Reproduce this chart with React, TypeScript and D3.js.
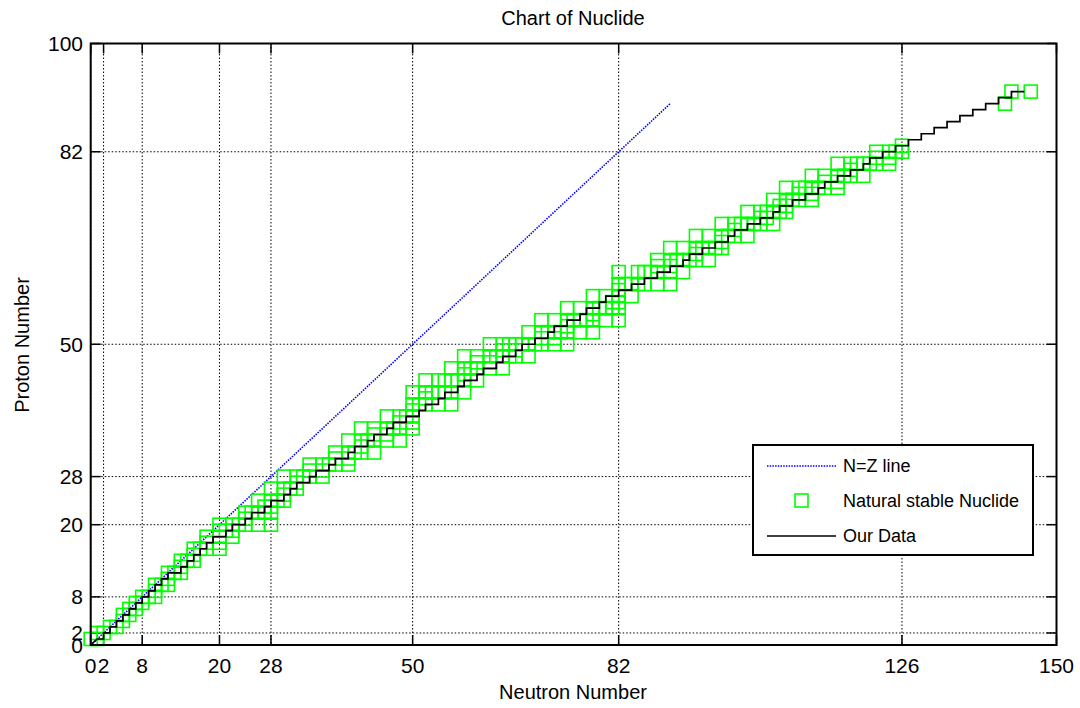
import React from 'react';
import * as d3 from 'd3';

// tick values used by the axes and the grid
const xTicks = [0, 2, 8, 20, 28, 50, 82, 126, 150];
const yTicks = [0, 2, 8, 20, 28, 50, 82, 100];

// natural stable nuclides: [Z, neutron numbers]
const stableNuclides: [number, number[]][] = [
  [1, [0, 1]], [2, [1, 2]], [3, [3, 4]], [4, [5]], [5, [5, 6]],
  [6, [6, 7]], [7, [7, 8]], [8, [8, 9, 10]], [9, [10]], [10, [10, 11, 12]],
  [11, [12]], [12, [12, 13, 14]], [13, [14]], [14, [14, 15, 16]], [15, [16]],
  [16, [16, 17, 18, 20]], [17, [18, 20]], [18, [18, 20, 22]], [19, [20, 21, 22]],
  [20, [20, 22, 23, 24, 26, 28]], [21, [24]], [22, [24, 25, 26, 27, 28]],
  [23, [27, 28]], [24, [26, 28, 29, 30]], [25, [30]], [26, [28, 30, 31, 32]],
  [27, [32]], [28, [30, 32, 33, 34, 36]], [29, [34, 36]], [30, [34, 36, 37, 38, 40]],
  [31, [38, 40]], [32, [38, 40, 41, 42, 44]], [33, [42]], [34, [40, 42, 43, 44, 46, 48]],
  [35, [44, 46]], [36, [42, 44, 46, 47, 48, 50]], [37, [48, 50]], [38, [46, 48, 49, 50]],
  [39, [50]], [40, [50, 51, 52, 54, 56]], [41, [52]], [42, [50, 52, 53, 54, 55, 56, 58]],
  [44, [52, 54, 55, 56, 57, 58, 60]], [45, [58]], [46, [56, 58, 59, 60, 62, 64]],
  [47, [60, 62]], [48, [58, 60, 62, 63, 64, 65, 66, 68]], [49, [64, 66]],
  [50, [62, 64, 65, 66, 67, 68, 69, 70, 72, 74]], [51, [70, 72]],
  [52, [68, 70, 71, 72, 73, 74, 76, 78]], [53, [74]], [54, [70, 72, 74, 75, 76, 77, 78, 80, 82]],
  [55, [78]], [56, [74, 76, 78, 79, 80, 81, 82]], [57, [81, 82]], [58, [78, 80, 82, 84]],
  [59, [82]], [60, [82, 83, 84, 85, 86, 88, 90]], [62, [82, 85, 86, 87, 88, 90, 92]],
  [63, [88, 90]], [64, [88, 90, 91, 92, 93, 94, 96]], [65, [94]],
  [66, [90, 92, 94, 95, 96, 97, 98]], [67, [98]], [68, [94, 96, 98, 99, 100, 102]],
  [69, [100]], [70, [98, 100, 101, 102, 103, 104, 106]], [71, [104, 105]],
  [72, [102, 104, 105, 106, 107, 108]], [73, [107, 108]], [74, [106, 108, 109, 110, 112]],
  [75, [110, 112]], [76, [108, 110, 111, 112, 113, 114, 116]], [77, [114, 116]],
  [78, [112, 114, 116, 117, 118, 120]], [79, [118]], [80, [116, 118, 119, 120, 121, 122, 124]],
  [81, [122, 124]], [82, [122, 124, 125, 126]], [83, [126]], [90, [142]], [92, [143, 146]],
];

// "Our Data": neutron number of the step for each proton number
const ourZ = [
  0, 1, 2, 3, 4, 5, 6, 7, 8, 9, 10, 11, 12, 13, 14, 15, 16, 17, 18, 19, 20,
  21, 22, 23, 24, 25, 26, 27, 28, 29, 30, 31, 32, 33, 34, 35, 36, 37, 38, 39, 40,
  41, 42, 43, 44, 45, 46, 47, 48, 49, 50, 51, 52, 53, 54, 55, 56, 57, 58, 59, 60,
  61, 62, 63, 64, 65, 66, 67, 68, 69, 70, 71, 72, 73, 74, 75, 76, 77, 78, 79, 80,
  81, 82, 83, 84, 85, 86, 87, 88, 89, 90, 91, 92, 92,
];
const ourN = [
  0, 1, 2, 3, 4, 5, 6, 7, 8, 9, 10, 11, 12, 14, 15, 16, 17, 18, 19, 21, 22,
  24, 25, 27, 28, 30, 31, 32, 34, 35, 37, 38, 40, 41, 43, 44, 46, 47, 49, 51, 52,
  54, 55, 57, 58, 60, 61, 63, 64, 66, 67, 69, 71, 72, 74, 76, 77, 79, 80, 82, 84,
  86, 88, 90, 92, 93, 95, 97, 99, 100, 102, 104, 106, 107, 109, 111, 113, 114, 116, 118, 120,
  121, 123, 125, 127, 129, 131, 133, 135, 137, 139, 141, 143, 145,
];

// N=Z reference line end points
const nzLine = [0, 90];

const font = '"Liberation Sans", Arial, Helvetica, sans-serif';

export default function App() {
  const width = 1080, height = 708;
  const left = 90.7, right = 1056.5, top = 43.5, bottom = 645;

  const x = d3.scaleLinear().domain([0, 150]).range([left, right]);
  const y = d3.scaleLinear().domain([0, 100]).range([bottom, top]);

  const nzPath = d3.line<number>().x((d) => x(d)).y((d) => y(d))(nzLine) || '';

  // first segment is drawn straight, then stairs
  const pts: [number, number][] = [[ourN[0], ourZ[0]]];
  for (let i = 1; i < ourN.length; i++) {
    if (i > 1) pts.push([ourN[i], ourZ[i - 1]]);
    pts.push([ourN[i], ourZ[i]]);
  }
  const ourPath = d3.line<[number, number]>().x((d) => x(d[0])).y((d) => y(d[1]))(pts) || '';

  const squares: { n: number; z: number }[] = [];
  stableNuclides.forEach(([z, ns]) => ns.forEach((n) => squares.push({ n, z })));

  const sq = 13;
  const tickLen = 10;

  const lg = { x: 753, y: 445, w: 280, h: 110 };

  return (
    <svg width={width} height={height} style={{ position: 'absolute', left: 0, top: 0, background: '#fff' }}>
      <rect x={0} y={0} width={width} height={height} fill="#fff" />

      {/* grid */}
      <g stroke="#000" strokeWidth={1} strokeDasharray="1.5,2">
        {xTicks.map((t) => (
          <line key={`gx${t}`} x1={x(t)} x2={x(t)} y1={top} y2={bottom} />
        ))}
        {yTicks.map((t) => (
          <line key={`gy${t}`} x1={left} x2={right} y1={y(t)} y2={y(t)} />
        ))}
      </g>

      {/* tick marks */}
      <g stroke="#000" strokeWidth={1.5}>
        {xTicks.map((t) => (
          <g key={`tx${t}`}>
            <line x1={x(t)} x2={x(t)} y1={bottom} y2={bottom - tickLen} />
            <line x1={x(t)} x2={x(t)} y1={top} y2={top + tickLen} />
          </g>
        ))}
        {yTicks.map((t) => (
          <g key={`ty${t}`}>
            <line x1={left} x2={left + tickLen} y1={y(t)} y2={y(t)} />
            <line x1={right} x2={right - tickLen} y1={y(t)} y2={y(t)} />
          </g>
        ))}
      </g>

      {/* N=Z line */}
      <path d={nzPath} fill="none" stroke="#0000ff" strokeWidth={1.6} strokeDasharray="1.5,1.2" />

      {/* natural stable nuclides */}
      <g fill="none" stroke="#00ff00" strokeWidth={1.6}>
        {squares.map((d, i) => (
          <rect key={i} x={x(d.n) - sq / 2} y={y(d.z) - sq / 2} width={sq} height={sq} />
        ))}
      </g>

      {/* our data */}
      <path d={ourPath} fill="none" stroke="#000" strokeWidth={1.7} />

      {/* axes box */}
      <rect x={left} y={top} width={right - left} height={bottom - top} fill="none" stroke="#000" strokeWidth={2} />

      {/* tick labels */}
      <g fontFamily={font} fontSize={21} fill="#000">
        {xTicks.map((t) => (
          <text key={`lx${t}`} x={x(t)} y={673} textAnchor="middle">{t}</text>
        ))}
        {yTicks.map((t) => (
          <text key={`ly${t}`} x={83} y={y(t) + 7.5} textAnchor="end">{t}</text>
        ))}
      </g>

      {/* title and axis labels */}
      <text x={573} y={25} textAnchor="middle" fontFamily={font} fontSize={20}>Chart of Nuclide</text>
      <text x={573} y={699} textAnchor="middle" fontFamily={font} fontSize={20}>Neutron Number</text>
      <text transform={`translate(29,345) rotate(-90)`} textAnchor="middle" fontFamily={font} fontSize={20}>Proton Number</text>

      {/* legend */}
      <g>
        <rect x={lg.x} y={lg.y} width={lg.w} height={lg.h} fill="#fff" stroke="#000" strokeWidth={2} />
        <line x1={767} x2={836} y1={466} y2={466} stroke="#0000ff" strokeWidth={1.6} strokeDasharray="1.5,1.2" />
        <rect x={795} y={494} width={13} height={13} fill="none" stroke="#00ff00" strokeWidth={1.6} />
        <line x1={767} x2={836} y1={536} y2={536} stroke="#000" strokeWidth={1.5} />
        <g fontFamily={font} fontSize={18} fill="#000">
          <text x={843} y={472}>N=Z line</text>
          <text x={843} y={507}>Natural stable Nuclide</text>
          <text x={843} y={542}>Our Data</text>
        </g>
      </g>
    </svg>
  );
}
